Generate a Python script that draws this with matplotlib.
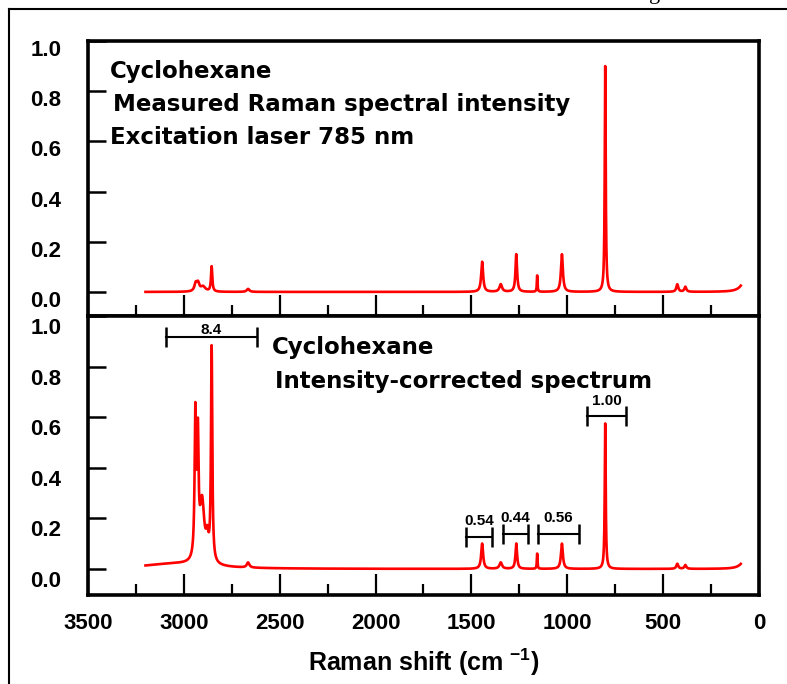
import numpy as np
import matplotlib.pyplot as plt
import matplotlib.transforms as mtransforms
from matplotlib.lines import Line2D
from matplotlib.ticker import MultipleLocator, FormatStrFormatter

plt.rcParams['font.family'] = ['Liberation Sans', 'DejaVu Sans']
plt.rcParams['font.weight'] = 'bold'
plt.rcParams['axes.labelweight'] = 'bold'
plt.rcParams['mathtext.fontset'] = 'custom'
plt.rcParams['mathtext.rm'] = 'Liberation Sans:bold'
plt.rcParams['mathtext.bf'] = 'Liberation Sans:bold'
plt.rcParams['mathtext.default'] = 'bf'

# cyclohexane bands: position (cm-1), peak height, half width (cm-1)
measured_pos = [2938, 2926, 2900, 2855, 2665, 1444, 1347, 1266, 1157, 1028, 802, 426, 384, 70]
measured_height = [0.03, 0.03, 0.02, 0.10, 0.012, 0.12, 0.03, 0.15, 0.065, 0.15, 0.90, 0.03, 0.02, 0.05]
measured_hw = [8, 8, 15, 4, 8, 6, 8, 5, 2, 6, 3, 6, 6, 25]

corrected_pos = [3050, 2940, 2927, 2905, 2878, 2855, 2665, 1444, 1347, 1266, 1157, 1028, 802, 426, 384, 70]
corrected_height = [0.02, 0.56, 0.45, 0.24, 0.08, 0.845, 0.02, 0.10, 0.025, 0.10, 0.06, 0.10, 0.575, 0.02, 0.015, 0.04]
corrected_hw = [200, 4.5, 4.5, 14, 8, 4, 8, 6, 8, 5, 2, 6, 3, 6, 6, 25]

# relative band intensities marked with brackets in the corrected spectrum
bracket_labels = ['8.4', '1.00', '0.54', '0.44', '0.56']
bracket_from = [3093, 897, 1528, 1335, 1153]
bracket_to = [2619, 694, 1393, 1205, 939]
bracket_level = [0.917, 0.603, 0.127, 0.139, 0.139]

yticks = [0.0, 0.2, 0.4, 0.6, 0.8, 1.0]

shift = np.arange(3200, 94, -1.0)


def spectrum(pos, height, hw):
    y = np.zeros_like(shift)
    for p, h, w in zip(pos, height, hw):
        y += h * w ** 2 / ((shift - p) ** 2 + w ** 2)
    return y


fig = plt.figure(figsize=(7.87, 6.84), dpi=100)
ax1 = fig.add_axes([0.1118, 0.538, 0.8526, 0.402])
ax2 = fig.add_axes([0.1118, 0.1301, 0.8526, 0.4079])

ax1.plot(shift, spectrum(measured_pos, measured_height, measured_hw), color='#ff0000', lw=1.9)
ax2.plot(shift, spectrum(corrected_pos, corrected_height, corrected_hw), color='#ff0000', lw=1.9)

ax1.set_ylim(-0.096, 1.0)
ax2.set_ylim(-0.103, 1.0)

for ax, label_drop in ((ax1, 7), (ax2, 10)):
    ax.set_xlim(3500, 0)
    for sp in ax.spines.values():
        sp.set_linewidth(2.6)
    ax.xaxis.set_major_locator(MultipleLocator(500))
    ax.xaxis.set_minor_locator(MultipleLocator(250))
    ax.set_yticks(yticks)
    ax.yaxis.set_major_formatter(FormatStrFormatter('%.1f'))
    ax.tick_params(axis='x', which='major', direction='in', length=15, width=1.6,
                   labelsize=16, pad=13)
    ax.tick_params(axis='x', which='minor', direction='in', length=8, width=1.6)
    ax.tick_params(axis='y', which='major', direction='in', length=13, width=1.8,
                   labelsize=16, pad=19)
    drop = mtransforms.ScaledTranslation(0, -label_drop / 100, fig.dpi_scale_trans)
    for tick in ax.yaxis.get_major_ticks():
        tick.label1.set_transform(tick.label1.get_transform() + drop)

ax1.tick_params(axis='x', which='both', labelbottom=False)

panel_font = dict(fontsize=16.5, family='DejaVu Sans', fontweight='bold', va='center')
ax1.text(0.033, 0.89, 'Cyclohexane', transform=ax1.transAxes, **panel_font)
ax1.text(0.037, 0.77, 'Measured Raman spectral intensity', transform=ax1.transAxes,
         **panel_font)
ax1.text(0.033, 0.65, 'Excitation laser 785 nm', transform=ax1.transAxes, **panel_font)

ax2.text(0.274, 0.886, 'Cyclohexane', transform=ax2.transAxes, **panel_font)
ax2.text(0.279, 0.764, 'Intensity-corrected spectrum', transform=ax2.transAxes,
         **panel_font)

for lab, x0, x1, lev in zip(bracket_labels, bracket_from, bracket_to, bracket_level):
    ax2.plot([x0, x1], [lev, lev], color='black', lw=1.5)
    ax2.plot([x0, x1], [lev, lev], ls='none', marker='|', ms=15, mew=1.8, color='black')
    lift = 0 if lab == '8.4' else 6
    ax2.annotate(lab, xy=((x0 + x1) / 2, lev), xytext=(0, lift), textcoords='offset points',
                 ha='center', va='bottom', fontsize=11)

ax2.set_xlabel(r'Raman shift (cm $^{-1}$)', fontsize=18, labelpad=9)

# page frame and clipped caption letter above the figure
fig.add_artist(Line2D([9 / 787, 9 / 787], [0, 1 - 9 / 684], transform=fig.transFigure,
                      color='black', lw=1.5))
fig.add_artist(Line2D([9 / 787, 1], [1 - 9 / 684, 1 - 9 / 684], transform=fig.transFigure,
                      color='black', lw=1.5))
fig.text(655 / 787, 1 + 1 / 684, 'g', fontsize=16, family='Liberation Serif',
         fontweight='normal', ha='center', va='baseline')

fig.savefig('out.png', dpi=100)
